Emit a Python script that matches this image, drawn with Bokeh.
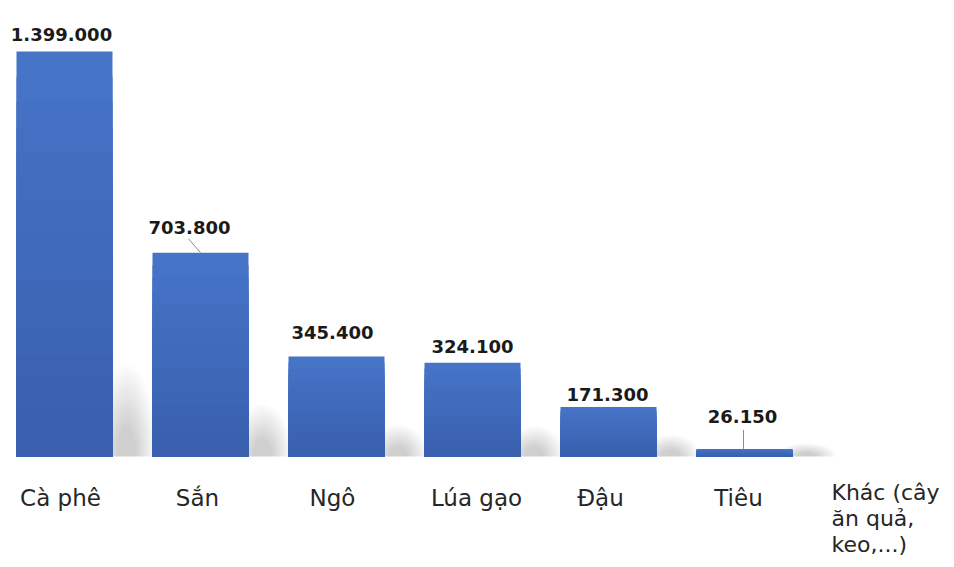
from bokeh.plotting import figure
from bokeh.models import Range1d, ColumnDataSource
from bokeh.core.properties import value
from bokeh.embed import file_html
from bokeh.resources import INLINE

# ---- data ----
categories = ["Cà phê", "Sắn", "Ngô", "Lúa gạo", "Đậu", "Tiêu", "Khác (cây\năn quả,\nkeo,...)"]
values = [1399000, 703800, 345400, 324100, 171300, 26150]
value_labels = [f"{v:,}".replace(",", ".") for v in values]

# ---- layout (pixels) ----
W, H = 946, 559
STEP = 136.0            # px per category
X0_PX = 64.0            # px of first category centre
BASE_PX = 456.0         # px of baseline from top
MAX_PX = 405.0          # px height of largest bar
py = max(values) / MAX_PX   # value units per pixel
px = 1.0 / STEP             # x units per pixel

p = figure(width=W, height=H, min_border=0, x_axis_location=None, y_axis_location=None,
           outline_line_color=None, toolbar_location=None, output_backend="svg",
           x_range=Range1d(-X0_PX / STEP, -X0_PX / STEP + W / STEP),
           y_range=Range1d(-(H - BASE_PX) * py, BASE_PX * py))
p.grid.visible = False
p.background_fill_color = "white"
p.border_fill_color = "white"

BW = 96 * px
xs = list(range(len(values)))

# soft shadows behind bars
L = 16
for layer in range(L):
    f = 1 - layer * 0.045
    sx, sy, sw, sh = [], [], [], []
    for i, v in enumerate(values):
        hpx = 0.2 * v / py + 12
        sx.append(i + BW / 2 + 14 * px)
        sy.append(0)
        sw.append(2 * 30 * px * f)
        sh.append(2 * hpx * py * f)
    p.ellipse(x=sx, y=sy, width=sw, height=sh, fill_color="black", fill_alpha=0.013,
              line_color=None)

# white area under baseline
p.quad(left=[-1], right=[8], bottom=[-(H - BASE_PX) * py * 2], top=[0],
       fill_color="white", line_color=None)

# bars with a gentle vertical gradient
N = 16
top_c = (70, 116, 199)
bot_c = (57, 95, 174)
for j in range(N):
    t = j / (N - 1)
    c = tuple(int(round(top_c[k] + (bot_c[k] - top_c[k]) * t)) for k in range(3))
    frac = (N - j) / N
    p.vbar(x=xs, width=BW, bottom=0, top=[v * frac for v in values],
           fill_color="#%02x%02x%02x" % c, line_color=None)

# leader lines (Sắn, Tiêu)
p.segment(x0=[1 - 12 * px, 5 - 1 * px], y0=[values[1] + 14 * py, values[5] + 19 * py],
          x1=[1, 5 - 1 * px], y1=[values[1], values[5]],
          line_color="#8c8c8c", line_width=1)

# value labels
gaps = [17, 25, 24, 16, 12, 32]
xsh = [-3, -11, -4, 0, -1, -2]
src = ColumnDataSource(dict(x=[i + xsh[i] * px for i in xs], y=values, t=value_labels,
                            off=[-g for g in gaps]))
p.text(x="x", y="y", text="t", y_offset="off", source=src, text_align="center",
       text_baseline="alphabetic", text_font=value("DejaVu Sans"), text_font_style="bold",
       text_font_size="18px", text_color="#1a1a1a")

# category labels
cxsh = [-4, -3, -4, 4, -8, -6]
p.text(x=[i + cxsh[i] * px for i in range(6)], y=[0] * 6, text=categories[:6],
       y_offset=41, text_align="center", text_baseline="alphabetic",
       text_font=value("DejaVu Sans"), text_font_size="23px", text_color="#262626")

# last category wraps over three lines
khac_lines = categories[6].split("\n")
p.text(x=[6 - 49 * px] * len(khac_lines), y=[0] * len(khac_lines), text=khac_lines,
       y_offset=[36 + 26 * k for k in range(len(khac_lines))], text_align="left",
       text_baseline="alphabetic",
       text_font=value("DejaVu Sans"), text_font_size="22px", text_color="#262626")

open("out.html", "w").write(file_html(p, INLINE))
